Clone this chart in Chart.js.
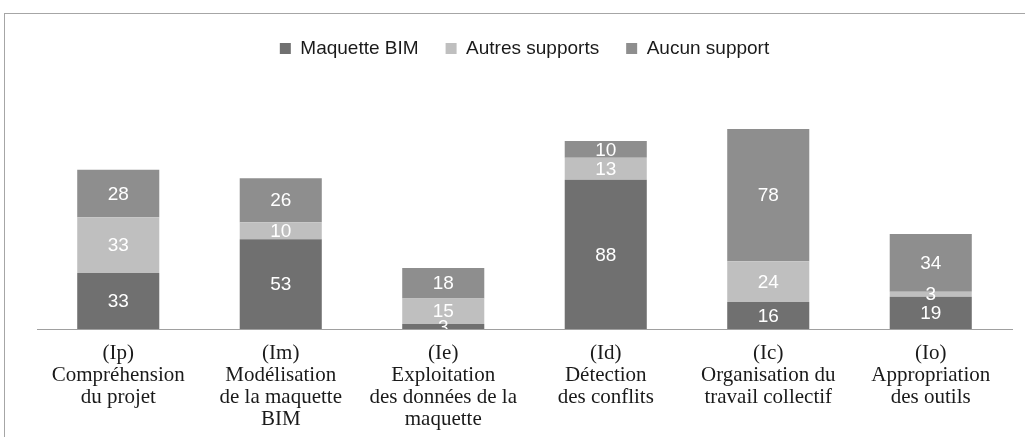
<!DOCTYPE html>
<html>
<head>
<meta charset="utf-8">
<script src="https://cdn.jsdelivr.net/npm/chart.js@4.4.0/dist/chart.umd.min.js"></script>
<style>
	body { margin: 0; background: #fff; }
	#wrap { position: relative; width: 1025px; height: 437px; overflow: hidden; }
	#frame { position: absolute; left: 4px; top: 13px; width: 1030px; height: 440px;
		border-top: 1px solid #a6a6a6; border-left: 1px solid #a6a6a6; }
	canvas { position: absolute; left: 0; top: 0; }
</style>
</head>
<body>
<div id="wrap">
	<div id="frame"></div>
	<canvas id="myChart" width="1025" height="437"></canvas>
</div>
<script>
const categories = [
	['(Ip)', 'Compréhension', 'du projet'],
	['(Im)', 'Modélisation', 'de la maquette', 'BIM'],
	['(Ie)', 'Exploitation', 'des données de la', 'maquette'],
	['(Id)', 'Détection', 'des conflits'],
	['(Ic)', 'Organisation du', 'travail collectif'],
	['(Io)', 'Appropriation', 'des outils']
];
const maquetteBIM = [33, 53, 3, 88, 16, 19];
const autresSupports = [33, 10, 15, 13, 24, 3];
const aucunSupport = [28, 26, 18, 10, 78, 34];

// white value labels in the middle of each segment
const segmentLabels = {
	id: 'segmentLabels',
	afterDatasetsDraw(chart) {
		const ctx = chart.ctx;
		const area = chart.chartArea;
		ctx.save();
		ctx.beginPath();
		ctx.rect(area.left, area.top, area.right - area.left, area.bottom - area.top);
		ctx.clip();
		ctx.fillStyle = '#ffffff';
		ctx.font = '19px "Liberation Sans", Arial, sans-serif';
		ctx.textAlign = 'center';
		ctx.textBaseline = 'middle';
		chart.data.datasets.forEach(function(ds, i) {
			chart.getDatasetMeta(i).data.forEach(function(bar, j) {
				ctx.fillText(String(ds.data[j]), bar.x, (bar.y + bar.base) / 2 + 1);
			});
		});
		ctx.restore();
	}
};

function createChart(){
	var chart = document.getElementById('myChart');

	const data = {
		labels: categories,
		datasets: [
			{ label: 'Maquette BIM', data: maquetteBIM, backgroundColor: '#707070' },
			{ label: 'Autres supports', data: autresSupports, backgroundColor: '#bfbfbf' },
			{ label: 'Aucun support', data: aucunSupport, backgroundColor: '#8e8e8e' }
		]
	};
	const config = {
		type: 'bar',
		data: data,
		plugins: [segmentLabels],
		options: {
			responsive: false,
			animation: false,
			layout: { padding: { left: 37, right: 13, top: 12, bottom: -6 } },
			datasets: { bar: { categoryPercentage: 1, barPercentage: 0.505, borderWidth: 0 } },
			plugins: {
				tooltip: { enabled: false },
				legend: {
					position: 'top',
					labels: {
						boxWidth: 11, boxHeight: 11, padding: 27,
						color: '#1a1a1a',
						font: { size: 19, family: '"Liberation Sans", Arial, sans-serif' }
					}
				}
			},
			scales: {
				x: {
					stacked: true,
					grid: { display: false, drawTicks: false },
					border: { display: true, color: '#a0a0a0', width: 1 },
					ticks: {
						autoSkip: false, maxRotation: 0, padding: 13,
						color: '#1a1a1a',
						font: { size: 21, family: '"Liberation Serif", "Times New Roman", serif', lineHeight: '22px' }
					}
				},
				y: { stacked: true, display: false, min: 0, max: 154 }
			}
		}
	};

	new Chart(chart, config);
}

document.addEventListener("DOMContentLoaded", createChart);
</script>
</body>
</html>
